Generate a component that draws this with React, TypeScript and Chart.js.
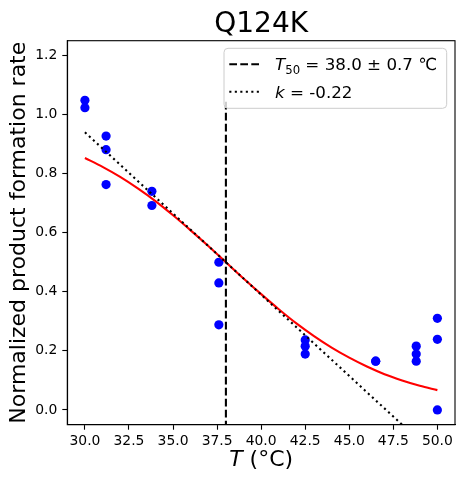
import React, { useEffect, useRef } from 'react';
import { Chart, ChartConfiguration, Plugin, registerables } from 'chart.js';

Chart.register(...registerables);

// measured samples
const sampleTemps = [30, 30, 31.2, 31.2, 31.2, 33.8, 33.8, 37.6, 37.6, 37.6, 42.5, 42.5, 42.5, 46.5, 46.5, 48.8, 48.8, 48.8, 50, 50, 50];
const sampleRates = [1.048, 1.023, 0.927, 0.881, 0.763, 0.74, 0.692, 0.5, 0.43, 0.288, 0.237, 0.216, 0.189, 0.165, 0.165, 0.216, 0.189, 0.165, 0.31, 0.239, 0.0];

// fitted curve
const fitTemps = [30, 31, 32, 33, 34, 35, 36, 37, 38, 39, 40, 41, 42, 43, 44, 45, 46, 47, 48, 49, 50];
const fitRates = [0.853, 0.823, 0.789, 0.75, 0.707, 0.659, 0.608, 0.555, 0.5, 0.445, 0.392, 0.341, 0.293, 0.25, 0.211, 0.177, 0.147, 0.121, 0.1, 0.082, 0.067];

// slope line at T50
const tangentTemps = [30, 50];
const tangentRates = [0.94, -0.16];

// T50 marker
const t50Temps = [38.0, 38.0];
const t50Rates = [-0.1, 1.048];

const xTicks = [30, 32.5, 35, 37.5, 40, 42.5, 45, 47.5, 50];
const yTicks = [0, 0.2, 0.4, 0.6, 0.8, 1.0, 1.2];

const FONT = '"DejaVu Sans", sans-serif';

interface Run {
  text: string;
  font: string;
  dy?: number;
}

// draws a row of differently styled text pieces, left aligned at x
const drawRuns = (ctx: CanvasRenderingContext2D, runs: Run[], x: number, y: number, center = false) => {
  let total = 0;
  runs.forEach(r => {
    ctx.font = r.font;
    total += ctx.measureText(r.text).width;
  });
  let cx = center ? x - total / 2 : x;
  ctx.textAlign = 'left';
  ctx.textBaseline = 'alphabetic';
  runs.forEach(r => {
    ctx.font = r.font;
    ctx.fillText(r.text, cx, y + (r.dy || 0));
    cx += ctx.measureText(r.text).width;
  });
};

const decorPlugin: Plugin = {
  id: 'decor',
  afterDraw(chart) {
    const { ctx, chartArea: a } = chart;
    const cx = (a.left + a.right) / 2;
    ctx.save();

    // axes frame
    ctx.strokeStyle = '#000';
    ctx.lineWidth = 1.1;
    ctx.strokeRect(a.left, a.top, a.right - a.left, a.bottom - a.top);

    ctx.fillStyle = '#000';
    ctx.textAlign = 'center';
    ctx.textBaseline = 'alphabetic';
    ctx.font = `28px ${FONT}`;
    ctx.fillText('Q124K', cx, a.top - 8.3);

    // x label
    drawRuns(ctx, [
      { text: 'T', font: `italic 22px ${FONT}` },
      { text: ' (°C)', font: `22px ${FONT}` },
    ], cx, 465.5, true);

    // y label
    ctx.save();
    ctx.translate(25, (a.top + a.bottom) / 2);
    ctx.rotate(-Math.PI / 2);
    ctx.textAlign = 'center';
    ctx.font = `22px ${FONT}`;
    ctx.fillText('Normalized product formation rate', 0, 0);
    ctx.restore();

    // legend
    const lx = 224;
    const ly = 48.3;
    const lw = 222.7;
    const lh = 60;
    ctx.beginPath();
    ctx.roundRect(lx, ly, lw, lh, 4);
    ctx.fillStyle = 'rgba(255,255,255,0.8)';
    ctx.fill();
    ctx.strokeStyle = '#cccccc';
    ctx.lineWidth = 1;
    ctx.stroke();

    ctx.strokeStyle = '#000';
    ctx.lineWidth = 2.1;
    ctx.setLineDash([7.7, 3.3]);
    ctx.beginPath();
    ctx.moveTo(229.3, 64.3);
    ctx.lineTo(261.7, 64.3);
    ctx.stroke();
    ctx.setLineDash([2.1, 3.4]);
    ctx.beginPath();
    ctx.moveTo(229.3, 91.7);
    ctx.lineTo(261.7, 91.7);
    ctx.stroke();
    ctx.setLineDash([]);

    ctx.fillStyle = '#000';
    drawRuns(ctx, [
      { text: 'T', font: `italic 16.7px ${FONT}` },
      { text: '50', font: `11.7px ${FONT}`, dy: 3.5 },
      { text: ' = 38.0 ± 0.7 ℃', font: `16.7px ${FONT}` },
    ], 275, 70.4);
    drawRuns(ctx, [
      { text: 'k', font: `italic 16.7px ${FONT}` },
      { text: ' = -0.22', font: `16.7px ${FONT}` },
    ], 275, 97.6);

    ctx.restore();
  },
};

const toPoints = (xs: number[], ys: number[]) => xs.map((x, i) => ({ x, y: ys[i] }));

const tickFont = { family: FONT, size: 13.9 };

export default function App() {
  const chartRef = useRef<HTMLCanvasElement | null>(null);

  useEffect(() => {
    document.body.style.margin = '0';
    if (!chartRef.current) return;
    const ctx = chartRef.current.getContext('2d');
    if (!ctx) return;

    const config: ChartConfiguration = {
      type: 'scatter',
      data: {
        datasets: [
          {
            data: toPoints(tangentTemps, tangentRates),
            showLine: true,
            borderColor: '#000',
            borderWidth: 2.1,
            borderDash: [2.1, 3.4],
            pointRadius: 0,
          },
          {
            data: toPoints(t50Temps, t50Rates),
            showLine: true,
            borderColor: '#000',
            borderWidth: 2.1,
            borderDash: [7.7, 3.3],
            pointRadius: 0,
          },
          {
            data: toPoints(fitTemps, fitRates),
            showLine: true,
            borderColor: '#ff0000',
            borderWidth: 2.1,
            pointRadius: 0,
            cubicInterpolationMode: 'monotone',
          },
          {
            data: toPoints(sampleTemps, sampleRates),
            backgroundColor: '#0000ff',
            borderWidth: 0,
            pointRadius: 4.6,
          },
        ],
      },
      options: {
        responsive: false,
        animation: false,
        layout: { padding: { top: 40.7, right: 9, left: 0, bottom: 0 } },
        plugins: {
          legend: { display: false },
          tooltip: { enabled: false },
          title: { display: false },
        },
        scales: {
          x: {
            type: 'linear',
            min: 29,
            max: 51,
            afterBuildTicks: axis => {
              axis.ticks = xTicks.map(v => ({ value: v }));
            },
            afterFit: axis => {
              axis.height = 62.3;
            },
            ticks: {
              callback: v => Number(v).toFixed(1),
              color: '#000',
              font: tickFont,
              padding: 3,
              maxRotation: 0,
              autoSkip: false,
            },
            grid: { drawOnChartArea: false, drawTicks: true, tickLength: 5, tickWidth: 1.1, tickColor: '#000' },
            border: { display: true, color: '#000', width: 1.1 },
          },
          y: {
            type: 'linear',
            min: -0.05,
            max: 1.25,
            afterBuildTicks: axis => {
              axis.ticks = yTicks.map(v => ({ value: v }));
            },
            afterFit: axis => {
              axis.width = 67.3;
            },
            ticks: {
              callback: v => Number(v).toFixed(1),
              color: '#000',
              font: tickFont,
              padding: 5,
              autoSkip: false,
            },
            grid: { drawOnChartArea: false, drawTicks: true, tickLength: 5, tickWidth: 1.1, tickColor: '#000' },
            border: { display: true, color: '#000', width: 1.1 },
          },
        },
      },
      plugins: [decorPlugin],
    };

    const chart = new Chart(ctx, config);
    return () => {
      chart.destroy();
    };
  }, []);

  return (
    <div style={{ width: 464, height: 487 }}>
      <canvas ref={chartRef} width={464} height={487} />
    </div>
  );
}
